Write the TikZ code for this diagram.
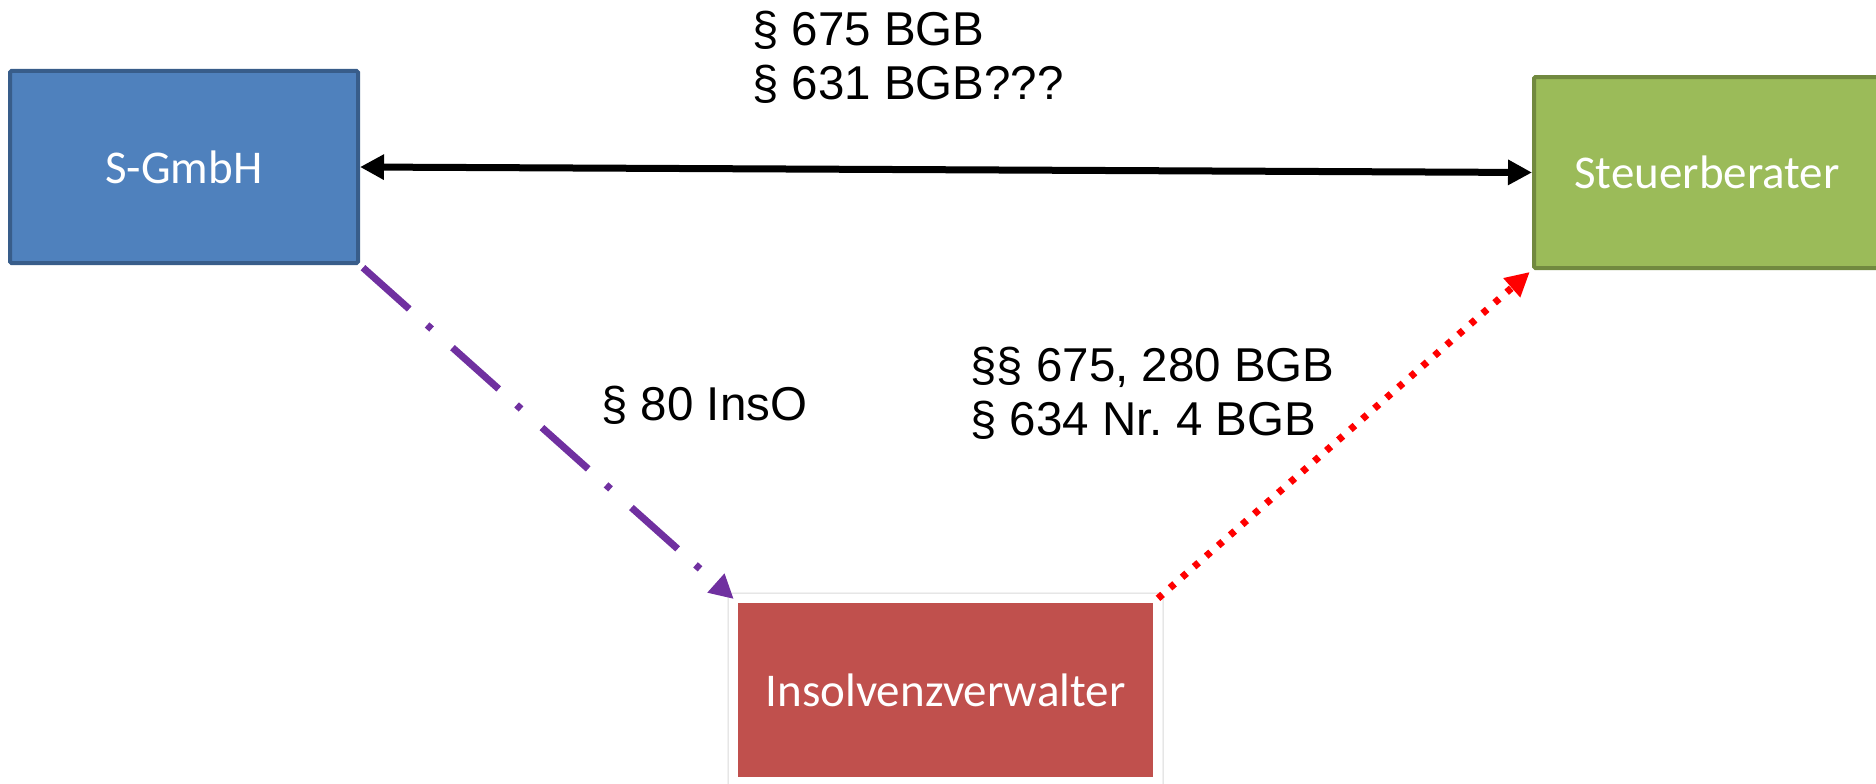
\documentclass[tikz,border=0pt]{standalone}
\usepackage{fontspec}
\setmainfont{Liberation Sans}
\newfontfamily\boxfont{Carlito}
\usetikzlibrary{arrows.meta,backgrounds}
\frenchspacing
\definecolor{boxblue}{HTML}{4F81BD}
\definecolor{boxblueline}{HTML}{385D8A}
\definecolor{boxgreen}{HTML}{9BBB59}
\definecolor{boxgreenline}{HTML}{71893F}
\definecolor{boxred}{HTML}{C0504D}
\definecolor{lnpurple}{HTML}{7030A0}
\definecolor{lnred}{HTML}{FF0000}
\tikzset{
  party/.style={rectangle, rounded corners=1.5pt, line width=4pt, inner sep=0pt,
    text=white, font=\boxfont\fontsize{47}{54}\selectfont},
  lbl/.style={inner sep=0pt, align=left, font=\fontsize{47.5}{54}\selectfont},
  conn/.style={line width=7pt},
  bigtri/.tip={Triangle[length=24pt,width=24pt]}
}
\begin{document}
\begin{tikzpicture}[x=1pt,y=-1pt]
\useasboundingbox (0,0) rectangle (1876,784);
\node[party, fill=boxblue, draw=boxblueline, minimum width=348pt, minimum height=192pt] (sg) at (184,167) {S-GmbH};
\node[party, fill=boxgreen, draw=boxgreenline, minimum width=346pt, minimum height=191pt] (sb) at (1707,172.5) {Steuerberater};
\node[party, rounded corners=0pt, fill=boxred, minimum width=415pt, minimum height=174pt] (iv) at (945.5,690) {Insolvenzverwalter};
\begin{scope}[on background layer]
  \draw[black!15, fill=white, line width=1pt, rounded corners=3pt]
    ([xshift=-8pt,yshift=8pt]iv.north west) rectangle ([xshift=8pt,yshift=-12pt]iv.south east);
\end{scope}
\node[lbl, anchor=north west] (t1) at (752,11) {§ 675 BGB\\§ 631 BGB???};
\node[lbl, anchor=north west] (t2) at (970,347) {§§ 675, 280 BGB\\§ 634 Nr. 4 BGB};
\node[lbl, anchor=base west] (t3) at (601,420) {§ 80 InsO};
\draw[conn, black, bigtri-bigtri] (sg.east) -- (sb.west);
\draw[conn, lnpurple, dash pattern=on 62pt off 24pt on 6pt off 28pt, -bigtri, shorten <=4pt, shorten >=3pt]
  (sg.south east) -- (iv.north west);
\draw[conn, lnred, dash pattern=on 6pt off 10pt, -bigtri, shorten <=4pt, shorten >=3pt]
  (iv.north east) -- (sb.south west);
\end{tikzpicture}
\end{document}
